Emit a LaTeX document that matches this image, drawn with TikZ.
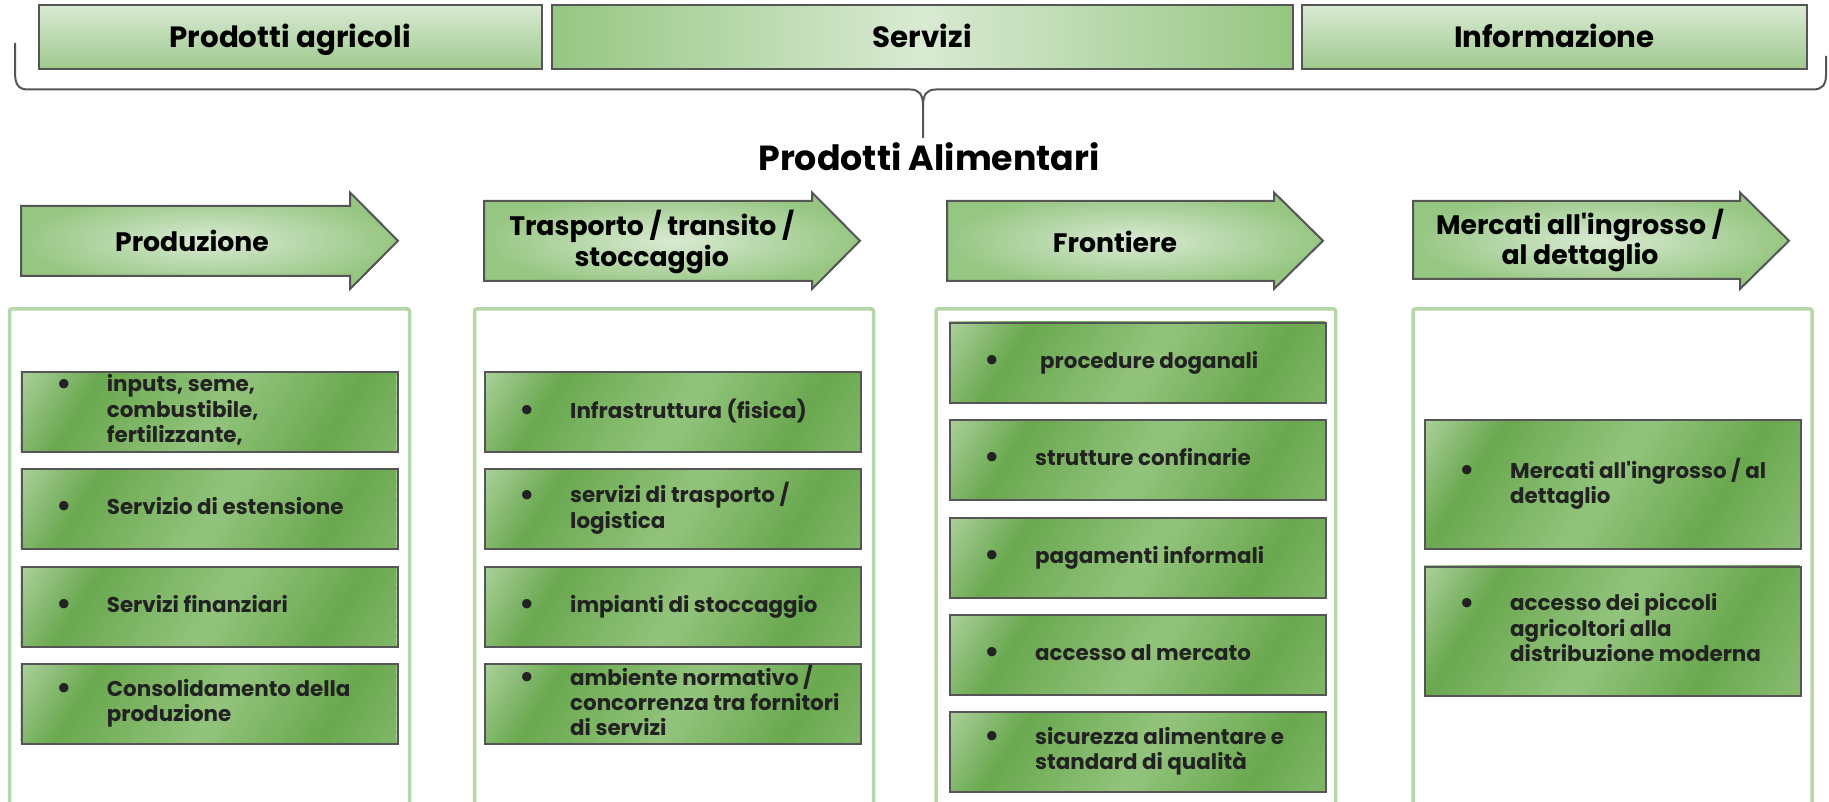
\documentclass[tikz,border=0pt]{standalone}
\usepackage{fontspec}
\setmainfont{Poppins}
\usepackage{array}
\usepackage{graphicx}
\definecolor{bord}{HTML}{555555}
\definecolor{topL}{HTML}{D9EAD3}
\definecolor{topD}{HTML}{9FC98E}
\definecolor{arL}{HTML}{D9EAD3}
\definecolor{arD}{HTML}{96C682}
\definecolor{itL}{HTML}{B6D7A8}
\definecolor{itD}{HTML}{6AA84F}
\definecolor{itM}{HTML}{93C47D}
\definecolor{cont}{HTML}{B6D7A8}
\definecolor{txt}{HTML}{222222}
\pgfdeclareradialshading{arrowrad}{\pgfpoint{0bp}{0bp}}{color(0bp)=(arL); color(25bp)=(arD); color(50bp)=(arD)}
% diagonal stripes: #1 left x, #2 top y, #3 height
\newcommand\stripebox[3]{%
  \begin{scope}
    \clip (#1,#2) rectangle ({#1+376},{#2+#3});
    \foreach \a/\b/\ca/\cb in {-10/70/itL/itD, 70/190/itD/itM, 190/295/itM/itD, 295/420/itD/itM}{%
      \pgfmathtruncatemacro\nn{(\b-\a)/5}%
      \foreach \k in {1,...,\nn}{%
        \pgfmathtruncatemacro\pp{100*(\k-0.5)/\nn}%
        \pgfmathsetmacro\ta{\a+(\k-1)*5}%
        \pgfmathsetmacro\tb{\ta+5.8}%
        \fill[\cb!\pp!\ca] ({#1+\ta*0.848+240*0.53},{#2+\ta*0.53-240*0.848})
          -- ({#1+\tb*0.848+240*0.53},{#2+\tb*0.53-240*0.848})
          -- ({#1+\tb*0.848-150*0.53},{#2+\tb*0.53+150*0.848})
          -- ({#1+\ta*0.848-150*0.53},{#2+\ta*0.53+150*0.848}) -- cycle;
      }%
    }%
  \end{scope}}
\tikzset{
  topbox/.style={draw=bord, line width=2pt, inner sep=0pt, minimum height=64pt,
    text height=20.5pt, text depth=0pt,
    font=\bfseries\fontsize{29.3}{32}\selectfont, text=black},
  topvert/.style={top color=topL, bottom color=topD},
  tophoriz/.style={left color=arD, right color=arD, middle color=topL},
  arrowsty/.style={draw=bord, line width=2pt, shading=arrowrad},
  headtext/.style={inner sep=0pt, align=center, font=\bfseries\fontsize{26.7}{30.3}\selectfont, text=black},
  contsty/.style={draw=cont, line width=3.5pt, rounded corners=2pt},
  bracesty/.style={draw=bord, line width=2pt},
  itemshape/.style={draw=bord, line width=2.2pt, minimum width=376pt, inner sep=0pt, anchor=north west},
  itemtext/.style={inner sep=0pt, anchor=west, font=\bfseries\fontsize{21.4}{25.3}\selectfont, text=txt},
}
\newcommand\bul{\makebox[0pt]{\raisebox{-2.2pt}{\scalebox{1.45}{•}}}}
% #1 name, #2 left x, #3 top y, #4 height, #5 rows
\newcommand\itembox[5]{%
  \stripebox{#2}{#3}{#4}
  \node[itemshape, minimum height=#4pt] (#1) at (#2,#3) {};
  \node[itemtext] (#1t) at ([xshift=43pt]#1.west) {\begin{tabular}{@{}p{43pt}@{}l@{}}#5\end{tabular}};
}
% #1 left x, #2 body top, #3 body bottom, #4 head x, #5 tip x
\newcommand\arrowshape[5]{%
  \path[arrowsty] (#1,#2) -- (#4,#2) -- (#4,192.5) -- (#5,240.75) -- (#4,289) -- (#4,#3) -- (#1,#3) -- cycle;
}
\begin{document}
\begin{tikzpicture}[x=1pt,y=-1pt]
\useasboundingbox (0,0) rectangle (1829,802);
\clip (0,0) rectangle (1829,802);

% top boxes
\node[topbox, topvert, minimum width=503.5pt] (agri) at (290.25,37) {Prodotti agricoli};
\node[topbox, tophoriz, minimum width=740.5pt] (serv) at (922.25,37) {Servizi};
\node[topbox, topvert, minimum width=504.7pt] (info) at (1554.35,37) {Informazione};

% brace
\coordinate (bl) at (15,43);
\coordinate (bt) at (923,138);
\coordinate (br) at (1826,56);
\draw[bracesty] (bl) -- (15,72) .. controls (15,84) and (18,89.5) .. (28,89.5) -- (910,89.5)
  .. controls (919,89.5) and (923,94) .. (923,106) -- (bt);
\draw[bracesty] (923,106) .. controls (923,94) and (927,89.5) .. (936,89.5) -- (1813,89.5)
  .. controls (1822,89.5) and (1826,85) .. (1826,75) -- (br);

\node[inner sep=0pt, font=\bfseries\fontsize{34.8}{40}\selectfont, text=black] (title) at (929,157) {Prodotti Alimentari};

% arrows
\arrowshape{21}{206}{276}{350}{398}
\arrowshape{484}{201}{281}{812}{860}
\arrowshape{947}{201}{281}{1274}{1323}
\arrowshape{1413}{201}{279}{1740}{1789}
\node[headtext] (h1) at (192,241) {Produzione};
\node[headtext] (h2) at (651.7,242) {Trasporto / transito /\\stoccaggio};
\node[headtext] (h3) at (1115,241.7) {Frontiere};
\node[headtext] (h4) at (1580,240.5) {Mercati all\textquotesingle ingrosso /\\al dettaglio};

% containers
\draw[contsty] (9.5,815) -- (9.5,309) -- (409.5,309) -- (409.5,815);
\draw[contsty] (474.5,815) -- (474.5,309) -- (873.5,309) -- (873.5,815);
\draw[contsty] (936,815) -- (936,309) -- (1335.5,309) -- (1335.5,815);
\draw[contsty] (1413,815) -- (1413,309) -- (1812,309) -- (1812,815);

% column 1
\itembox{i11}{20.7}{371}{80}{\bul & inputs, seme,\\ & combustibile,\\ & fertilizzante,}
\itembox{i12}{20.7}{468}{80}{\bul & Servizio di estensione}
\itembox{i13}{20.7}{566}{80}{\bul & Servizi finanziari}
\itembox{i14}{20.7}{663}{80}{\bul & Consolidamento della\\ & produzione}
% column 2
\itembox{i21}{484}{371}{80}{\bul & Infrastruttura (fisica)}
\itembox{i22}{484}{468}{80}{\bul & servizi di trasporto /\\ & logistica}
\itembox{i23}{484}{566}{80}{\bul & impianti di stoccaggio}
\itembox{i24}{484}{663}{80}{\bul & ambiente normativo /\\ & concorrenza tra fornitori\\ & di servizi}
% column 3
\itembox{i31}{949}{322}{80}{\bul & \hspace*{5pt}procedure doganali}
\itembox{i32}{949}{419}{80}{\bul & strutture confinarie}
\itembox{i33}{949}{517}{80}{\bul & pagamenti informali}
\itembox{i34}{949}{614}{80}{\bul & accesso al mercato}
\itembox{i35}{949}{711}{80}{\bul & sicurezza alimentare e\\ & standard di qualità}
% column 4
\itembox{i41}{1424}{419}{129}{\bul & Mercati all\textquotesingle ingrosso / al\\ & dettaglio}
\itembox{i42}{1424}{565.5}{129}{\bul & accesso dei piccoli\\ & agricoltori alla\\ & distribuzione moderna}
\end{tikzpicture}
\end{document}
